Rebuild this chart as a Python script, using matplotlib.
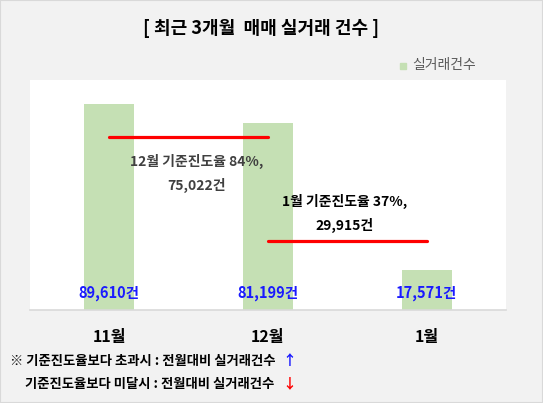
import matplotlib.pyplot as plt
from matplotlib.patches import Rectangle

plt.rcParams['font.family'] = ['Noto Sans CJK KR', 'DejaVu Sans']

# data
months = ["11월", "12월", "1월"]
counts = [89610, 81199, 17571]
count_labels = ["89,610건", "81,199건", "17,571건"]
base_values = [75022, 29915]   # 12월, 1월 기준진도 건수
base_texts = ["12월 기준진도율 84%,\n75,022건", "1월 기준진도율 37%,\n29,915건"]

W, H = 543, 403
fig = plt.figure(figsize=(W / 100, H / 100), dpi=100, facecolor="#f2f2f2")
fig.patches.append(Rectangle((0, 0), 1, 1, transform=fig.transFigure,
                             fill=False, edgecolor="#d9d9d9", lw=1.5))

ax = fig.add_axes([30 / W, (H - 310) / H, 476 / W, 230 / H])
x = range(len(months))
ax.bar(x, counts, width=0.315, color="#c5e0b4", zorder=2)
ax.set_xlim(-0.5, 2.5)
ax.set_ylim(0, 100000)
ax.set_xticks([])
ax.set_yticks([])
for s in ["top", "left", "right"]:
    ax.spines[s].set_visible(False)
ax.spines["bottom"].set_color("#d9d9d9")
ax.spines["bottom"].set_linewidth(1.2)

# value labels
for i, lab in enumerate(count_labels):
    ax.annotate(lab, xy=(i, 0), xytext=(0, 12), textcoords="offset points",
                ha="center", va="center", color="#1a1aff",
                fontsize=10.5, fontweight="bold", zorder=4)

# category labels
for i, m in enumerate(months):
    ax.annotate(m, xy=(i, 0), xytext=(0, -19.5), textcoords="offset points",
                ha="center", va="center", color="black",
                fontsize=11.5, fontweight="bold", annotation_clip=False)

# 기준진도 lines
for i, v in enumerate(base_values):
    ax.plot([i, i + 1], [v, v], color="red", lw=2.3, solid_capstyle="round", zorder=3)

ax.text(0.55, 59400, base_texts[0], ha="center", va="center", color="#404040",
        fontsize=10, fontweight="bold", linespacing=1.75, zorder=4)
ax.text(1.48, 41800, base_texts[1], ha="center", va="center", color="black",
        fontsize=10, fontweight="bold", linespacing=1.75, zorder=4)

# title
fig.text(261 / W, 1 - 28 / H, "[ 최근 3개월  매매 실거래 건수 ]", ha="center", va="center",
         fontsize=13, fontweight="bold", color="black")

# legend
fig.patches.append(Rectangle((400 / W, 1 - 69 / H), 6 / W, 6 / H,
                             transform=fig.transFigure, color="#c5e0b4"))
fig.text(412 / W, 1 - 65 / H, "실거래건수", ha="left", va="center",
         fontsize=10, color="#595959")

# footnotes
t1 = fig.text(10 / W, 1 - 361 / H, "※ 기준진도율보다 초과시 : 전월대비 실거래건수", ha="left",
              va="center", fontsize=9.6, fontweight="bold", color="black")
fig.text(289 / W, 1 - 361 / H, "↑", ha="center", va="center", fontsize=10,
         fontweight="bold", color="#1a1aff")
t2 = fig.text(25 / W, 1 - 384 / H, "기준진도율보다 미달시 : 전월대비 실거래건수", ha="left",
              va="center", fontsize=9.6, fontweight="bold", color="black")
fig.text(289 / W, 1 - 384 / H, "↓", ha="center", va="center", fontsize=10,
         fontweight="bold", color="red")

fig.savefig("out.png", dpi=100, facecolor=fig.get_facecolor())
